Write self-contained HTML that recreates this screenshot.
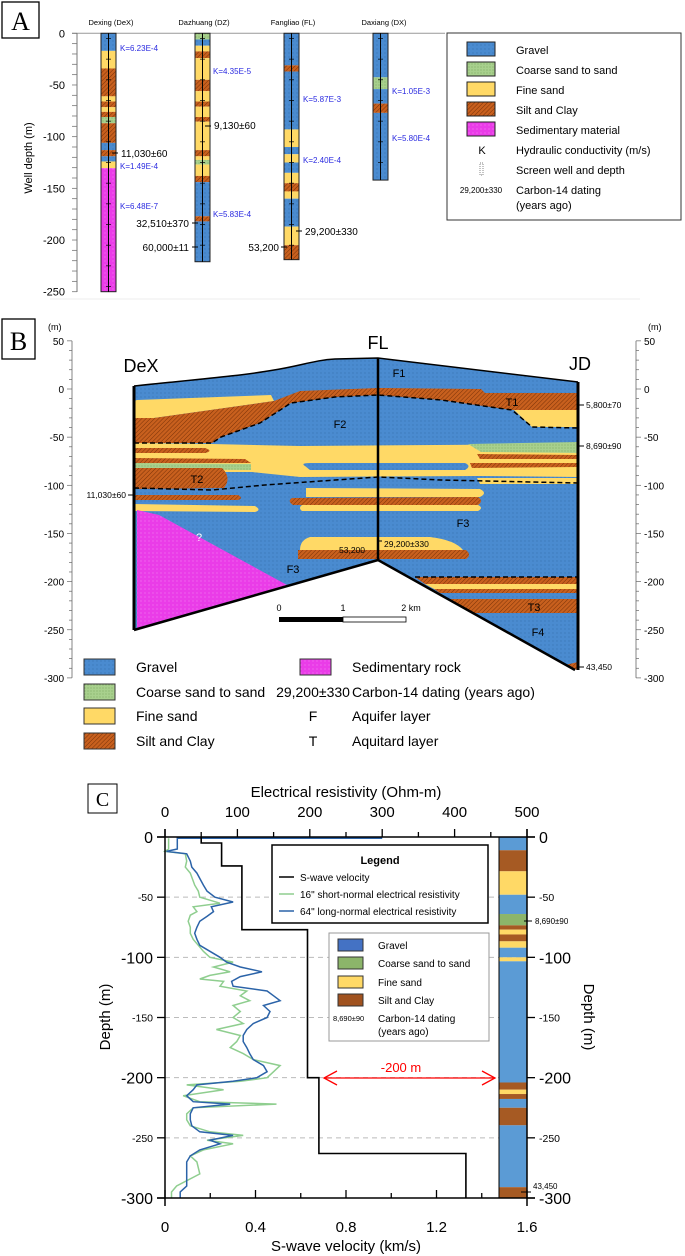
<!DOCTYPE html>
<html><head><meta charset="utf-8"><title>Well logs and cross-section</title>
<style>
html,body{margin:0;padding:0;background:#fff;}
svg{display:block;font-family:"Liberation Sans",Arial,sans-serif;}
</style></head>
<body>
<svg id="fig" width="685" height="1256" viewBox="0 0 685 1256" xmlns="http://www.w3.org/2000/svg">
<defs>
 <pattern id="pG" width="4" height="4" patternUnits="userSpaceOnUse"><rect width="4" height="4" fill="#4a8bd0"/><circle cx="1" cy="1" r="0.45" fill="#2a5f9a"/></pattern>
 <pattern id="pS" width="3" height="3" patternUnits="userSpaceOnUse"><rect width="3" height="3" fill="#a8d08d"/><circle cx="1" cy="1" r="0.5" fill="#6f9a55"/></pattern>
 <pattern id="pC" width="3" height="3" patternUnits="userSpaceOnUse" patternTransform="rotate(45)"><rect width="3" height="3" fill="#c8601e"/><line x1="0" y1="0" x2="0" y2="3" stroke="#7a3208" stroke-width="1"/></pattern>
 <pattern id="pP" width="4" height="4" patternUnits="userSpaceOnUse"><rect width="4" height="4" fill="#ea3ce8"/><circle cx="1" cy="1" r="0.45" fill="#f7a8f5"/></pattern>
</defs>

<!-- ================= PANEL A ================= -->
<g id="panelA">
 <rect x="2" y="2" width="37" height="36" fill="#fff" stroke="#000" stroke-width="1.3"/>
 <text x="20.5" y="30" font-family="Liberation Serif,serif" font-size="26" text-anchor="middle">A</text>
 <line x1="72" y1="33.3" x2="445" y2="33.3" stroke="#999" stroke-width="1"/>
 <line x1="77" y1="33.3" x2="77" y2="292" stroke="#777" stroke-width="1"/>
 <text transform="translate(32,158) rotate(-90)" font-size="11" text-anchor="middle">Well depth (m)</text>
 <g id="aTicks"></g>
 <g id="aCols"></g>
 <g font-size="7.5" text-anchor="middle">
  <text x="111" y="25">Dexing (DeX)</text>
  <text x="204" y="25">Dazhuang (DZ)</text>
  <text x="293" y="25">Fangliao (FL)</text>
  <text x="384" y="25">Daxiang (DX)</text>
 </g>
 <g font-size="8" fill="#2a2ae0">
  <text x="120" y="51">K=6.23E-4</text>
  <text x="120" y="169">K=1.49E-4</text>
  <text x="120" y="209">K=6.48E-7</text>
  <text x="213" y="74">K=4.35E-5</text>
  <text x="213" y="217">K=5.83E-4</text>
  <text x="303" y="102">K=5.87E-3</text>
  <text x="303" y="163">K=2.40E-4</text>
  <text x="392" y="94">K=1.05E-3</text>
  <text x="392" y="141">K=5.80E-4</text>
 </g>
 <g font-size="10">
  <line x1="112" y1="153" x2="118" y2="153" stroke="#000"/>
  <text x="121" y="157">11,030±60</text>
  <line x1="205" y1="126" x2="211" y2="126" stroke="#000"/>
  <text x="214" y="129">9,130±60</text>
  <line x1="192" y1="223" x2="198" y2="223" stroke="#000"/>
  <text x="189" y="227" text-anchor="end">32,510±370</text>
  <line x1="192" y1="247" x2="198" y2="247" stroke="#000"/>
  <text x="189" y="251" text-anchor="end">60,000±11</text>
  <line x1="281" y1="247" x2="287" y2="247" stroke="#000"/>
  <text x="279" y="251" text-anchor="end">53,200</text>
  <line x1="296" y1="231" x2="302" y2="231" stroke="#000"/>
  <text x="305" y="235">29,200±330</text>
 </g>
 <g>
  <rect x="447" y="33" width="234" height="187" fill="#fff" stroke="#333" stroke-width="1"/>
  <rect x="467" y="42" width="28" height="14" fill="url(#pG)" stroke="#222"/>
  <rect x="467" y="62" width="28" height="14" fill="url(#pS)" stroke="#222"/>
  <rect x="467" y="82" width="28" height="14" fill="#ffd966" stroke="#222"/>
  <rect x="467" y="102" width="28" height="14" fill="url(#pC)" stroke="#222"/>
  <rect x="467" y="122" width="28" height="14" fill="url(#pP)" stroke="#222"/>
  <g font-size="11">
   <text x="516" y="54">Gravel</text>
   <text x="516" y="74">Coarse sand to sand</text>
   <text x="516" y="94">Fine sand</text>
   <text x="516" y="114">Silt and Clay</text>
   <text x="516" y="134">Sedimentary material</text>
   <text x="482" y="154" text-anchor="middle">K</text>
   <text x="516" y="154">Hydraulic conductivity (m/s)</text>
   <text x="516" y="174">Screen well and depth</text>
   <text x="516" y="194">Carbon-14 dating</text>
   <text x="516" y="209">(years ago)</text>
  </g>
  <rect x="480" y="163" width="3" height="12" fill="none" stroke="#555" stroke-width="0.7" stroke-dasharray="1 1"/>
  <text x="481" y="193" font-size="8" text-anchor="middle">29,200±330</text>
 </g>
 <line x1="50" y1="299" x2="640" y2="299" stroke="#eee"/>
</g>

<!-- ================= PANEL B ================= -->
<g id="panelB">
 <rect x="2" y="319" width="33" height="40" fill="#fff" stroke="#000" stroke-width="1.3"/>
 <text x="18.5" y="350" font-family="Liberation Serif,serif" font-size="26" text-anchor="middle">B</text>
 <g id="bAxes"></g>
 <text x="48" y="330" font-size="9">(m)</text>
 <text x="648" y="330" font-size="9">(m)</text>
 <g>
  <path d="M134,386 C190,380 240,376 274,370 C300,366 315,360 335,359 L378,358 L578,382 L578,670 L570,668 L378,560 L134,630 Z" fill="url(#pG)"/>
  <path d="M137,400 L271,395 L274,401 L154,418 L134,418 L134,401 Z" fill="#ffd966"/>
  <path d="M134,418 L154,418 L274,401 L300,391 L378,388 L378,395 L335,397 L291,403 L260,423 L221,437 L212,443 L134,443 Z" fill="url(#pC)"/>
  <path d="M378,388 L481,389 L485,393 L578,393 L578,410 L512,410 L441,400 L378,395 Z" fill="url(#pC)"/>
  <path d="M514,410 L578,410 L578,427 L532,427 Z" fill="#ffd966"/>
  <path d="M134,443 L212,444 L300,446 L578,444 L578,477 L480,476 L300,477 L252,472 L134,472 Z" fill="#ffd966"/>
  <path d="M305,466 Q300,463 310,463 L465,463 Q472,466 465,470 L310,470 Z" fill="url(#pG)"/>
  <path d="M468,444 L578,442 L578,453 L481,452 Z" fill="url(#pS)"/>
  <path d="M477,454 L578,455 L578,459 L480,459 Z" fill="url(#pC)"/>
  <path d="M470,463 L578,463 L578,467 L472,468 Z" fill="url(#pC)"/>
  <path d="M134,448 L205,448 Q214,451 205,453 L134,453 Z" fill="url(#pC)"/>
  <path d="M134,458 L245,459 L251,463 L134,463 Z" fill="url(#pC)"/>
  <path d="M134,463 L251,464 L251,470 L134,469 Z" fill="url(#pS)"/>
  <path d="M134,468 L222,468 Q232,478 224,488 L134,489 Z" fill="url(#pC)"/>
  <path d="M477,478 L578,478 L578,484 L480,484 Z" fill="#ffd966"/>
  <path d="M134,495 L238,495 Q244,498 238,500 L134,500 Z" fill="url(#pC)"/>
  <path d="M134,504 L255,506 Q262,510 255,512 L134,511 Z" fill="#ffd966"/>
  <path d="M306,488 L480,489 Q488,493 480,497 L306,497 Z" fill="#ffd966"/>
  <path d="M292,498 L478,497 Q484,501 478,505 L293,505 Q287,501 292,498 Z" fill="url(#pC)"/>
  <path d="M302,505 L478,505 Q484,508 478,511 L302,511 Q298,508 302,505 Z" fill="#ffd966"/>
  <path d="M137,510 L159,515 L287,585 L137,628 Z" fill="url(#pP)"/>
  <path d="M310,537 L430,537 Q455,540 463,550 L300,550 Q300,540 310,537 Z" fill="#ffd966"/>
  <path d="M298,550 L466,550 Q472,555 466,559 L298,559 Z" fill="url(#pC)"/>
  <path d="M415,577 L578,577 L578,584 L425,584 Z" fill="url(#pC)"/>
  <path d="M425,584 L578,584 L578,589 L434,589 Z" fill="#ffd966"/>
  <path d="M434,589 L578,589 L578,593 L440,593 Z" fill="url(#pC)"/>
  <path d="M450,599 L578,599 L578,613 L473,613 Z" fill="url(#pC)"/>
  <path d="M565,665 L578,662 L578,670 L570,668 Z" fill="url(#pC)"/>
  <path d="M134,386 C190,380 240,376 274,370 C300,366 315,360 335,359 L378,358 L578,382" fill="none" stroke="#000" stroke-width="1.5"/>
  <path d="M134,630 L378,560 L575,670" fill="none" stroke="#000" stroke-width="2.5"/>
  <line x1="134" y1="386" x2="134" y2="630" stroke="#000" stroke-width="3"/>
  <line x1="378" y1="358" x2="378" y2="560" stroke="#000" stroke-width="2.5"/>
  <line x1="578" y1="382" x2="578" y2="670" stroke="#000" stroke-width="3"/>
  <g fill="none" stroke="#000" stroke-width="1.5" stroke-dasharray="5 3">
   <path d="M134,443 L212,443 L221,437 L260,423 L291,403 L335,397 L378,395 L441,400 L512,410 L532,427 L578,428"/>
   <path d="M134,488 L212,490 L265,485 L378,477 L441,480 L578,483"/>
   <path d="M415,577 L578,577"/>
  </g>
 </g>
 <g font-size="11">
  <text x="399" y="377" text-anchor="middle">F1</text>
  <text x="340" y="428" text-anchor="middle">F2</text>
  <text x="512" y="406" text-anchor="middle">T1</text>
  <text x="197" y="483" text-anchor="middle">T2</text>
  <text x="463" y="527" text-anchor="middle">F3</text>
  <text x="293" y="573" text-anchor="middle">F3</text>
  <text x="534" y="611" text-anchor="middle">T3</text>
  <text x="538" y="636" text-anchor="middle">F4</text>
  <text x="199" y="541" text-anchor="middle" fill="#fff">?</text>
 </g>
 <g font-size="18" text-anchor="middle">
  <text x="141" y="372">DeX</text>
  <text x="378" y="349">FL</text>
  <text x="580" y="370">JD</text>
 </g>
 <g font-size="8.5">
  <text x="352" y="553" text-anchor="middle">53,200</text>
  <line x1="378" y1="541" x2="382" y2="541" stroke="#000"/>
  <text x="384" y="547">29,200±330</text>
  <line x1="578" y1="405" x2="584" y2="405" stroke="#000"/>
  <text x="586" y="408">5,800±70</text>
  <line x1="578" y1="446" x2="584" y2="446" stroke="#000"/>
  <text x="586" y="449">8,690±90</text>
  <line x1="128" y1="495" x2="134" y2="495" stroke="#000"/>
  <text x="126" y="498" text-anchor="end">11,030±60</text>
  <line x1="578" y1="667" x2="584" y2="667" stroke="#000"/>
  <text x="586" y="670">43,450</text>
 </g>
 <g>
  <rect x="279" y="617" width="64" height="5" fill="#000"/>
  <rect x="343" y="617" width="63" height="5" fill="#fff" stroke="#000" stroke-width="0.8"/>
  <g font-size="9" text-anchor="middle">
   <text x="279" y="611">0</text><text x="343" y="611">1</text><text x="411" y="611">2 km</text>
  </g>
 </g>
 <g>
  <rect x="84" y="659" width="31" height="16" fill="url(#pG)" stroke="#333"/>
  <rect x="84" y="684" width="31" height="16" fill="url(#pS)" stroke="#333"/>
  <rect x="84" y="708" width="31" height="16" fill="#ffd966" stroke="#333"/>
  <rect x="84" y="733" width="31" height="16" fill="url(#pC)" stroke="#333"/>
  <rect x="300" y="659" width="31" height="16" fill="url(#pP)" stroke="#333"/>
  <g font-size="14">
   <text x="136" y="672">Gravel</text>
   <text x="136" y="697">Coarse sand to sand</text>
   <text x="136" y="721">Fine sand</text>
   <text x="136" y="746">Silt and Clay</text>
   <text x="352" y="672">Sedimentary rock</text>
   <text x="313" y="697" text-anchor="middle">29,200±330</text>
   <text x="352" y="697">Carbon-14 dating (years ago)</text>
   <text x="313" y="721" text-anchor="middle">F</text>
   <text x="352" y="721">Aquifer layer</text>
   <text x="313" y="746" text-anchor="middle">T</text>
   <text x="352" y="746">Aquitard layer</text>
  </g>
 </g>
</g>

<!-- ================= PANEL C ================= -->
<g id="panelC">
 <rect x="88" y="784" width="29" height="29" fill="#fff" stroke="#000" stroke-width="1"/>
 <text x="102.5" y="806" font-family="Liberation Serif,serif" font-size="20" text-anchor="middle">C</text>
 <text x="346" y="797" font-size="15" text-anchor="middle">Electrical resistivity (Ohm-m)</text>
 <text x="346" y="1251" font-size="15" text-anchor="middle">S-wave velocity (km/s)</text>
 <text transform="translate(110,1017) rotate(-90)" font-size="15" text-anchor="middle">Depth (m)</text>
 <text transform="translate(584,1017) rotate(90)" font-size="15" text-anchor="middle">Depth (m)</text>
 <g id="cGrid"></g>
 <g id="cStrat"></g>
 <g id="cSeries"></g>
 <g id="cAxes"></g>
 <g>
  <rect x="272" y="845" width="216" height="78" fill="#fff" stroke="#000" stroke-width="1.5"/>
  <text x="380" y="864" font-size="11" font-weight="bold" text-anchor="middle">Legend</text>
  <line x1="279" y1="877" x2="294" y2="877" stroke="#000" stroke-width="1.5"/>
  <line x1="279" y1="894" x2="294" y2="894" stroke="#8fce8f" stroke-width="1.5"/>
  <line x1="279" y1="911" x2="294" y2="911" stroke="#2b63a8" stroke-width="1.5"/>
  <g font-size="10">
   <text x="300" y="881">S-wave velocity</text>
   <text x="300" y="898">16" short-normal electrical resistivity</text>
   <text x="300" y="915">64" long-normal electrical resistivity</text>
  </g>
  <rect x="329" y="933" width="160" height="108" fill="#fff" stroke="#999" stroke-width="1"/>
  <rect x="338" y="939" width="25" height="12" fill="#4472c4" stroke="#333"/>
  <rect x="338" y="957" width="25" height="12" fill="#8cb56a" stroke="#333"/>
  <rect x="338" y="976" width="25" height="12" fill="#ffd966" stroke="#333"/>
  <rect x="338" y="994" width="25" height="12" fill="#a0521f" stroke="#333"/>
  <g font-size="10">
   <text x="378" y="949">Gravel</text>
   <text x="378" y="967">Coarse sand to sand</text>
   <text x="378" y="986">Fine sand</text>
   <text x="378" y="1004">Silt and Clay</text>
   <text x="378" y="1022">Carbon-14 dating</text>
   <text x="378" y="1035">(years ago)</text>
  </g>
  <text x="333" y="1021" font-size="7.5">8,690±90</text>
 </g>
 <g>
  <line x1="324" y1="1078" x2="495" y2="1078" stroke="#f00" stroke-width="1.3"/>
  <polyline points="337,1071 324,1078 337,1085" fill="none" stroke="#f00" stroke-width="1.3"/>
  <polyline points="482,1071 495,1078 482,1085" fill="none" stroke="#f00" stroke-width="1.3"/>
  <text x="401" y="1072" font-size="13" fill="#f00" text-anchor="middle">-200 m</text>
 </g>
 <g font-size="8">
  <line x1="524" y1="921" x2="532" y2="921" stroke="#000"/>
  <text x="535" y="924">8,690±90</text>
  <line x1="521" y1="1192" x2="531" y2="1192" stroke="#000"/>
  <text x="533" y="1189">43,450</text>
 </g>
</g>
</svg>

<script>
const NS = 'http://www.w3.org/2000/svg';
function mk(parent, tag, attrs, name) {
  const el = document.createElementNS(NS, tag);
  for (const k in attrs) el.setAttribute(k, attrs[k]);
  
  
  parent.appendChild(el);
  return el;
}
const FILL_A = {g:'url(#pG)', s:'url(#pS)', f:'#ffd966', c:'url(#pC)', p:'url(#pP)'};

/* ---------- Panel A data ---------- */
const wellNames = ['dex','dz','fl','dx'];
const wellX = [101, 195, 284, 373];
const wellBottoms = [250, 221, 219, 142];
const dexTops = [0,17,34,61,66,71.5,76,81,87,106,113,119,124,130.5];
const dexTypes = ['g','f','c','f','c','f','c','s','c','g','c','g','f','p'];
const dzTops = [0,6,12,17.5,24,45,56,66,71,81,85.5,113,119,122.5,127,138,144,177,182];
const dzTypes = ['s','g','f','c','f','c','f','c','f','c','f','c','f','s','f','c','g','c','g'];
const flTops = [0,31,37,93,110,117,125,135,145,153,160,187,205];
const flTypes = ['g','c','g','f','g','f','g','f','c','f','g','f','c'];
const dxTops = [0,42.6,54,68,77];
const dxTypes = ['g','s','g','c','g'];
const aTickValues = [0,-50,-100,-150,-200,-250];

function yA(d){ return 33.3 + d * 1.0336; }
const aTicks = document.getElementById('aTicks');
for (let v = 0; v >= -250; v -= 10) {
  const t = mk(aTicks, 'line', {x1:72, x2:77, y1:yA(-v), y2:yA(-v), stroke:'#777', 'stroke-width':0.8}, 'a-y-tick');
}
aTickValues.forEach(v => {
  const t = mk(aTicks, 'text', {x:65, y:yA(-v)+4, 'font-size':11, 'text-anchor':'end'}, 'a-y-tick-label');
  t.textContent = v;
});
const aCols = document.getElementById('aCols');
const allTops = [dexTops, dzTops, flTops, dxTops];
const allTypes = [dexTypes, dzTypes, flTypes, dxTypes];
allTops.forEach((tops, wi) => {
  const g = mk(aCols, 'g', {}, 'well-' + wellNames[wi]);
  const x = wellX[wi];
  tops.forEach((top, i) => {
    const bot = i < tops.length - 1 ? tops[i+1] : wellBottoms[wi];
    mk(g, 'rect', {x:x, y:yA(top), width:15, height:yA(bot)-yA(top), fill:FILL_A[allTypes[wi][i]]}, 'well-layer');
  });
  mk(g, 'rect', {x:x, y:yA(0), width:15, height:yA(wellBottoms[wi])-yA(0), fill:'none', stroke:'#222', 'stroke-width':1}, 'well-outline');
  mk(g, 'line', {x1:x+7.5, x2:x+7.5, y1:yA(0), y2:yA(wellBottoms[wi]), stroke:'#000', 'stroke-width':1}, 'well-casing');
  for (let d = 5; d < wellBottoms[wi]; d += 20) {
    mk(g, 'line', {x1:x+5, x2:x+10, y1:yA(d), y2:yA(d), stroke:'#000', 'stroke-width':0.7}, 'screen-mark');
  }
});

/* ---------- Panel B axes ---------- */
const bTickValues = [50,0,-50,-100,-150,-200,-250,-300];
function yB(d){ return 389 - 0.963 * d; }
const bAxes = document.getElementById('bAxes');
[72, 636].forEach((ax, si) => {
  mk(bAxes, 'line', {x1:ax, x2:ax, y1:yB(50), y2:yB(-300), stroke:'#666', 'stroke-width':0.8}, si ? 'b-right-axis' : 'b-left-axis');
  for (let v = 50; v >= -300; v -= 10) {
    const major = v % 50 === 0;
    const dx = si ? 1 : -1;
    mk(bAxes, 'line', {x1:ax, x2:ax + dx*(major?5:3), y1:yB(v), y2:yB(v), stroke:'#666', 'stroke-width':0.7}, 'b-tick');
  }
  bTickValues.forEach(v => {
    const t = mk(bAxes, 'text', {x: si ? 644 : 64, y:yB(v)+4, 'font-size':10, 'text-anchor': si ? 'start' : 'end'}, 'b-tick-label');
    t.textContent = v;
  });
});

/* ---------- Panel C data ---------- */
const cDepthTicks = [0,-50,-100,-150,-200,-250,-300];
const cVelTicks = [0,0.4,0.8,1.2,1.6];
const cResTicks = [0,100,200,300,400,500];
// S-wave velocity step profile
const vsDepthBreaks = [0,5,24,77,200,263,300];
const vsValues = [0.16,0.25,0.34,0.63,0.68,1.33];
// 64" long-normal resistivity (Ohm-m) vs depth (m)
const longDepth = [1,1,2,10,12,14,20,25,30,40,45,50,54,58,62,66,70,75,80,85,90,95,100,104,108,112,116,120,124,128,132,136,140,145,150,155,160,165,170,175,180,185,190,195,200,203,206,210,215,220,222,225,230,235,240,245,248,252,255,260,265,270,280,290,295,300];
const longRes =   [300,17,17,17,2,30,35,37,44,53,58,69,94,64,67,58,48,44,41,44,48,62,76,85,104,134,104,92,94,141,150,159,136,145,141,122,113,108,108,113,117,122,136,141,127,94,44,39,30,39,90,39,35,35,37,48,94,62,76,48,35,30,30,30,21,21];
// 16" short-normal resistivity (Ohm-m) vs depth (m)
const shortDepth = [1,10,12,14,20,25,30,40,45,50,55,58,62,65,70,75,80,85,90,95,100,104,108,112,115,118,120,124,128,132,136,140,145,150,155,160,165,170,175,180,185,190,195,200,203,206,210,215,220,222,225,230,235,240,245,248,252,255,260,265,270,280,290,295,300];
const shortRes =   [5,5,0,28,30,28,35,41,46,48,76,39,44,35,32,35,35,39,46,53,62,94,67,90,62,48,81,76,113,104,117,94,104,94,108,71,104,99,90,108,122,159,150,141,104,30,81,25,48,154,39,30,30,35,62,108,58,94,53,35,44,48,16,9,9];
// lithology column
const cLithTops = [0,11,28.5,48,64,73.4,77,81,86.7,92,100,103.3,204,210,213.6,217.7,225,239.6,291];
const cLithTypes = ['g','c','f','g','s','c','f','c','f','g','f','g','c','f','c','g','c','g','c'];

const CX0 = 165, CX1 = 527, CY0 = 837, CY1 = 1198;
function xVel(v){ return CX0 + v / 1.6 * (CX1 - CX0); }
function xRes(r){ return CX0 + r / 500 * (CX1 - CX0); }
function yC(d){ return CY0 + Math.abs(d) / 300 * (CY1 - CY0); }
const FILL_C = {g:'#5b9bd5', s:'#8cb56a', f:'#ffd966', c:'#a65a23'};

const cGrid = document.getElementById('cGrid');
[-50,-100,-150,-200,-250].forEach(v => {
  mk(cGrid, 'line', {x1:CX0, x2:CX1, y1:yC(v), y2:yC(v), stroke:'#bbb', 'stroke-width':1, 'stroke-dasharray':'5 4'}, 'c-gridline');
});

const cStrat = document.getElementById('cStrat');
const SX = 499, SW = 28;
cLithTops.forEach((top, i) => {
  const bot = i < cLithTops.length - 1 ? cLithTops[i+1] : 300;
  mk(cStrat, 'rect', {x:SX, y:yC(top), width:SW, height:yC(bot)-yC(top), fill:FILL_C[cLithTypes[i]]}, 'c-lith-layer');
});
mk(cStrat, 'rect', {x:SX, y:CY0, width:SW, height:CY1-CY0, fill:'none', stroke:'#000', 'stroke-width':1}, 'c-lith-outline');

const cSeries = document.getElementById('cSeries');
let pts = shortDepth.map((d, i) => xRes(shortRes[i]).toFixed(1) + ',' + yC(d).toFixed(1)).join(' ');
mk(cSeries, 'polyline', {points:pts, fill:'none', stroke:'#8fce8f', 'stroke-width':1.5}, 'short-normal-resistivity-line');
pts = longDepth.map((d, i) => xRes(longRes[i]).toFixed(1) + ',' + yC(d).toFixed(1)).join(' ');
mk(cSeries, 'polyline', {points:pts, fill:'none', stroke:'#2b63a8', 'stroke-width':1.5}, 'long-normal-resistivity-line');
let vs = [];
vsValues.forEach((v, i) => {
  vs.push(xVel(v).toFixed(1) + ',' + yC(vsDepthBreaks[i]).toFixed(1));
  vs.push(xVel(v).toFixed(1) + ',' + yC(vsDepthBreaks[i+1]).toFixed(1));
});
mk(cSeries, 'polyline', {points:vs.join(' '), fill:'none', stroke:'#000', 'stroke-width':1.6}, 's-wave-velocity-line');

const cAxes = document.getElementById('cAxes');
mk(cAxes, 'line', {x1:CX0-8, x2:CX1+8, y1:CY0, y2:CY0, stroke:'#000', 'stroke-width':1.5}, 'c-top-axis');
mk(cAxes, 'line', {x1:CX0-8, x2:CX1+8, y1:CY1, y2:CY1, stroke:'#000', 'stroke-width':1.5}, 'c-bottom-axis');
mk(cAxes, 'line', {x1:CX0, x2:CX0, y1:CY0-8, y2:CY1+8, stroke:'#000', 'stroke-width':1.5}, 'c-left-axis');
mk(cAxes, 'line', {x1:CX1, x2:CX1, y1:CY0-8, y2:CY1+8, stroke:'#000', 'stroke-width':1.5}, 'c-right-axis');
for (let r = 0; r <= 500; r += 50) {
  mk(cAxes, 'line', {x1:xRes(r), x2:xRes(r), y1:CY0, y2:CY0 - (r % 100 === 0 ? 8 : 5), stroke:'#000', 'stroke-width':1.3}, 'c-top-tick');
}
cResTicks.forEach(r => {
  const t = mk(cAxes, 'text', {x:xRes(r), y:817, 'font-size':15, 'text-anchor':'middle'}, 'c-top-tick-label');
  t.textContent = r;
});
for (let v = 0; v <= 1.6001; v += 0.2) {
  const major = Math.round(v*10) % 4 === 0;
  mk(cAxes, 'line', {x1:xVel(v), x2:xVel(v), y1:CY1, y2:CY1 - (major ? 8 : 5), stroke:'#000', 'stroke-width':1.3}, 'c-bottom-tick');
}
cVelTicks.forEach(v => {
  const t = mk(cAxes, 'text', {x:xVel(v), y:1232, 'font-size':15, 'text-anchor':'middle'}, 'c-bottom-tick-label');
  t.textContent = v;
});
cDepthTicks.forEach(v => {
  const big = v % 100 === 0;
  mk(cAxes, 'line', {x1:CX0-8, x2:CX0, y1:yC(v), y2:yC(v), stroke:'#000', 'stroke-width':1.3}, 'c-left-tick');
  mk(cAxes, 'line', {x1:CX1, x2:CX1+8, y1:yC(v), y2:yC(v), stroke:'#000', 'stroke-width':1.3}, 'c-right-tick');
  const tl = mk(cAxes, 'text', {x:153, y:yC(v) + (big ? 6 : 4), 'font-size': big ? 16 : 10.5, 'text-anchor':'end'}, 'c-left-tick-label');
  tl.textContent = v;
  const tr = mk(cAxes, 'text', {x:539, y:yC(v) + (big ? 6 : 4), 'font-size': big ? 16 : 10.5, 'text-anchor':'start'}, 'c-right-tick-label');
  tr.textContent = v;
});
</script>
</body></html>
